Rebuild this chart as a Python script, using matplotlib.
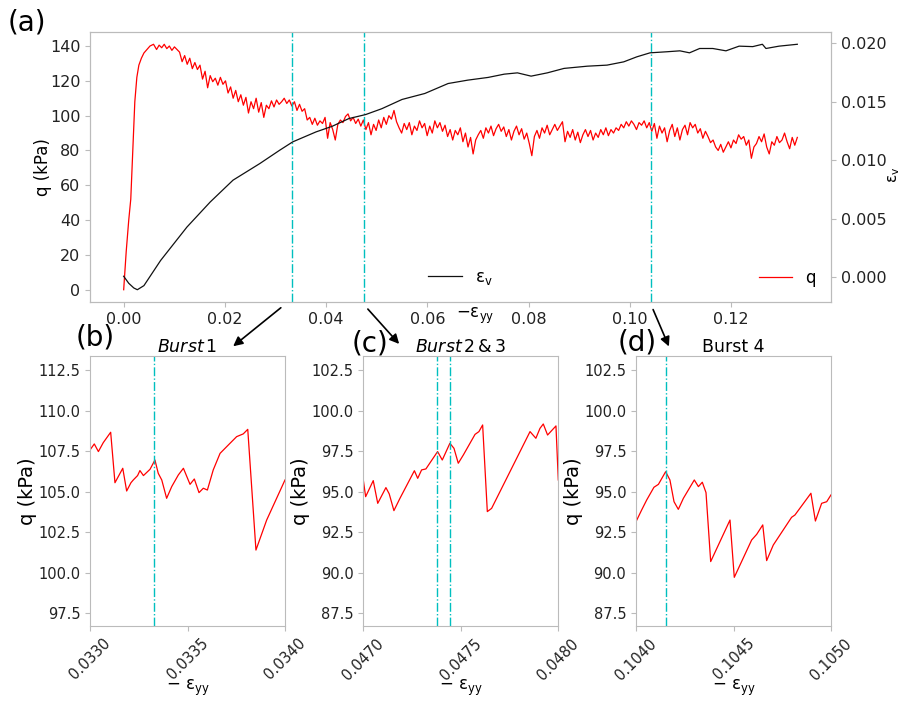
import numpy as np
import matplotlib
matplotlib.use('Agg')
import matplotlib.pyplot as plt
from matplotlib.patches import FancyArrowPatch

plt.rcParams['font.family'] = 'DejaVu Sans'
plt.rcParams['mathtext.default'] = 'regular'
plt.rcParams['font.size'] = 12

# ---- main curve (a) ----
# initial rise of q
rise_x = [0.0, 0.0005, 0.001, 0.0014, 0.0018, 0.0022, 0.0026, 0.003, 0.0035, 0.004, 0.0046, 0.0052, 0.0059]
rise_q = [0.0, 22.0, 40.0, 52.0, 80.0, 108.0, 122.0, 129.0, 133.0, 136.0, 138.0, 140.0, 141.0]

# noisy part of q, sampled every ~0.0005 from 0.0065 to 0.1331
noisy_q = [
    138, 140.5, 139, 141, 138.5, 140, 137.5, 139.5, 138, 136.5,
    131, 134.5, 129.5, 133, 127, 130.5, 126.5, 129, 121, 125.5,
    116, 123, 119.5, 121.5, 117.5, 122, 118, 120, 113, 116.5,
    110, 114.5, 108, 112, 106, 110.5, 101.5, 108, 104, 110,
    102, 107.5, 99, 106, 104, 108.5, 105, 109, 106.5, 108,
    110, 107, 109, 105.5, 108, 103, 106.5, 102.5, 104, 97.5,
    99, 95, 98.5, 94.5, 97, 95.5, 99, 87, 96, 92,
    86, 95, 97.5, 96, 99.5, 101, 97, 99, 95.5, 98,
    94, 97.5, 92, 96, 89, 95, 91.5, 97.5, 93, 99,
    95, 100, 98, 103, 96.5, 93, 90, 95.5, 92, 96,
    89, 94, 91.5, 97, 93, 95.5, 88.5, 94, 90, 97,
    93, 96, 91, 94.5, 88, 92, 86, 91.5, 89, 93,
    85, 90, 82, 87.5, 78, 86, 89, 91.5, 87, 93,
    90, 94, 88.5, 92.5, 95, 91, 93.5, 88, 92, 86,
    91, 94, 89, 92.5, 86.5, 90, 84, 77, 88, 91.5,
    87, 93, 90, 94.5, 89, 92, 95, 91.5, 94, 96.5,
    85, 91, 87.5, 92, 86, 90.5, 84.5, 89, 92, 88,
    91.5, 86, 90, 87.5, 92, 89, 93, 88.5, 92, 90,
    93, 91.5, 95, 93, 96.5, 94, 97, 95, 92, 96,
    94.5, 97, 93, 96, 91, 95.5, 87, 94, 90, 93,
    85, 91.5, 95, 88, 93, 86, 92, 94.5, 89, 96,
    93, 95, 90, 92.5, 87, 91, 88, 84.5, 86, 82,
    80, 83.5, 79, 82, 85, 81.5, 86, 84, 89, 86.5,
    88, 83, 86, 75.5, 82, 84, 88, 85, 89.5, 82,
    78, 85, 83, 88, 84.5, 86, 90, 85, 81, 87.5,
    83, 87.5,
]
noisy_x = np.linspace(0.0065, 0.1331, len(noisy_q))

# volumetric strain
ev_x = [0.0, 0.001, 0.002, 0.0027, 0.004, 0.0073, 0.0125, 0.0171, 0.0216, 0.0269, 0.0308,
        0.0334, 0.038, 0.0412, 0.0445, 0.0478, 0.051, 0.055, 0.0595, 0.0641, 0.068,
        0.072, 0.0752, 0.0778, 0.0805, 0.0837, 0.087, 0.0916, 0.0955, 0.0988, 0.1014,
        0.1040, 0.1073, 0.1099, 0.1118, 0.1138, 0.1164, 0.119, 0.1216, 0.1243, 0.1262,
        0.1269, 0.1295, 0.1331]
ev = [0.0001, -0.0005, -0.0009, -0.00105, -0.0007, 0.00145, 0.0043, 0.00644, 0.0083, 0.00972, 0.01085,
      0.01157, 0.01242, 0.0129, 0.01356, 0.0139, 0.0144, 0.01519, 0.0157, 0.01655, 0.01684,
      0.01707, 0.01735, 0.01746, 0.01718, 0.01746, 0.01784, 0.01803, 0.01812, 0.0184, 0.01883,
      0.01917, 0.01926, 0.01934, 0.01917, 0.01954, 0.01954, 0.01934, 0.01974, 0.0197, 0.0199,
      0.01954, 0.01974, 0.0199]

bursts = [0.03333, 0.04741, 0.104152]

# ---- insets ----
b_x = [0.033, 0.033022, 0.033043, 0.033068, 0.033106, 0.033128, 0.033168, 0.033188, 0.03321,
       0.033222, 0.033244, 0.033256, 0.033274, 0.033308, 0.033333, 0.03335, 0.033368, 0.033393,
       0.033419, 0.033453, 0.033479, 0.033513, 0.033535, 0.033559, 0.033581, 0.033602, 0.033632,
       0.033667, 0.033718, 0.033752, 0.033786, 0.033809, 0.033851, 0.033906, 0.034]
b_q = [107.57, 107.94, 107.47, 108.02, 108.66, 105.55, 106.44, 105.04, 105.55,
       105.72, 105.99, 106.3, 105.99, 106.38, 106.95, 106.13, 105.72, 104.59,
       105.31, 106.03, 106.44, 105.45, 105.78, 104.94, 105.21, 105.10, 106.34,
       107.36, 107.98, 108.39, 108.56, 108.84, 101.40, 103.25, 105.72]

c_x = [0.047, 0.047012, 0.047051, 0.047074, 0.047116, 0.047133, 0.047157, 0.047188, 0.047262,
       0.047279, 0.047299, 0.047321, 0.047381, 0.047405, 0.047444, 0.047465, 0.047487, 0.047513,
       0.047573, 0.047593, 0.047612, 0.047636, 0.047658, 0.047855, 0.047885, 0.047906, 0.047923,
       0.047945, 0.047988, 0.048]
c_q = [95.72, 94.69, 95.68, 94.28, 95.25, 94.86, 93.83, 94.59, 96.29,
       95.82, 96.34, 96.40, 97.47, 96.95, 97.98, 97.67, 96.75, 97.26,
       98.53, 98.70, 99.11, 93.77, 93.97, 98.70, 98.29, 98.90, 99.17,
       98.49, 99.05, 95.72]

d_x = [0.104, 0.104029, 0.104055, 0.104092, 0.104115, 0.104152, 0.104174, 0.104195, 0.104217,
       0.104243, 0.104299, 0.10432, 0.10434, 0.104359, 0.104383, 0.104482, 0.104504, 0.104593,
       0.104619, 0.10465, 0.10467, 0.104704, 0.104798, 0.104815, 0.104897, 0.10492, 0.104952,
       0.104978, 0.105]
d_q = [93.15, 93.87, 94.49, 95.27, 95.45, 96.23, 95.72, 94.38, 93.91,
       94.59, 95.72, 95.31, 95.58, 94.94, 90.69, 93.25, 89.72, 92.02,
       92.37, 92.95, 90.75, 91.71, 93.42, 93.56, 94.90, 93.19, 94.28,
       94.38, 94.80]

spine_col = '#bbbbbb'


def style(ax, size):
    for s in ax.spines.values():
        s.set_color(spine_col)
    ax.tick_params(color=spine_col, length=3.5, labelcolor='#222222', labelsize=size)


fig = plt.figure(figsize=(9, 7.04), dpi=100)
W, H = 900.0, 704.0

# main axes
ax1 = fig.add_axes([90 / W, 1 - 302 / H, 741 / W, 270 / H])
ax1.plot(rise_x + list(noisy_x), rise_q + noisy_q, color='red', lw=0.9, label='q')
for xb in bursts:
    ax1.axvline(xb, color='c', ls='-.', lw=1)
ax1.set_ylabel('q (kPa)', fontsize=12)
ax1.yaxis.set_label_coords(-0.051, 0.5)
ax1.set_xticks([0, 0.02, 0.04, 0.06, 0.08, 0.10, 0.12])
ax1.set_xticklabels(['0.00', '0.02', '0.04', '0.06', '0.08', '0.10', '0.12'])
ax1.set_yticks(range(0, 141, 20))
ax1.set_xlabel(r'$-\varepsilon_{yy}$', fontsize=12)
ax1.xaxis.set_label_coords(0.52, -0.014)
ax1.legend(loc='lower right', frameon=False)
style(ax1, 11.5)

ax2 = ax1.twinx()
ax2.plot(ev_x, ev, color='#111111', lw=0.9, label=r'$\varepsilon_v$')
ax2.set_ylabel(r'$\varepsilon_v$', fontsize=11)
ax2.yaxis.set_label_coords(1.074, 0.47)
ax2.set_yticks([0, 0.005, 0.010, 0.015, 0.020])
ax2.set_yticklabels(['0.000', '0.005', '0.010', '0.015', '0.020'])
ax2.legend(loc='lower center', frameon=False)
style(ax2, 11.5)

fig.text(8 / W, 1 - 22 / H, '(a)', fontsize=20, va='center', ha='left')

# insets
insets = [
    (90, b_x, b_q, (0.033, 0.034), (96.72, 113.36), [97.5, 100, 102.5, 105, 107.5, 110, 112.5],
     [0.03333], r'$\it{Burst}\,1$', '(b)', 95, 337),
    (363.3, c_x, c_q, (0.047, 0.048), (86.72, 103.36), [87.5, 90, 92.5, 95, 97.5, 100, 102.5],
     [0.04738, 0.047444], r'$\it{Burst}\,2\,&\,3$', '(c)', 370, 343),
    (636, d_x, d_q, (0.104, 0.105), (86.72, 103.36), [87.5, 90, 92.5, 95, 97.5, 100, 102.5],
     [0.104152], 'Burst 4', '(d)', 637, 342),
]
for left, xs, qs, xl, yl, yt, lines, title, tag, tx, ty in insets:
    ax = fig.add_axes([left / W, 1 - 626 / H, 195 / W, 270 / H])
    ax.plot(xs, qs, color='red', lw=0.9)
    for xb in lines:
        ax.axvline(xb, color='c', ls='-.', lw=1)
    ax.set_xlim(*xl)
    ax.set_ylim(*yl)
    ax.set_yticks(yt)
    ax.set_yticklabels(['%.1f' % v for v in yt])
    ticks = [xl[0], (xl[0] + xl[1]) / 2, xl[1]]
    ax.set_xticks(ticks)
    ax.set_xticklabels(['%.4f' % v for v in ticks], rotation=45)
    ax.set_ylabel('q (kPa)', fontsize=14)
    ax.yaxis.set_label_coords(-0.272, 0.5)
    ax.set_xlabel(r'$-\ \varepsilon_{yy}$', fontsize=12)
    ax.xaxis.set_label_coords(0.5, -0.193)
    ax.set_title(title, fontsize=12.5, pad=3)
    style(ax, 10.5)
    fig.text(tx / W, 1 - ty / H, tag, fontsize=20, ha='center', va='center')

# arrows from main plot to insets
arrows = [((283, 306), (231, 348)), ((366, 307), (401, 346)), ((652, 307), (670, 349))]
for (x0, y0), (x1, y1) in arrows:
    fig.add_artist(FancyArrowPatch((x0 / W, 1 - y0 / H), (x1 / W, 1 - y1 / H),
                                   transform=fig.transFigure, arrowstyle='-|>',
                                   mutation_scale=14, color='black', lw=1.2))

fig.savefig('out.png', dpi=100)
